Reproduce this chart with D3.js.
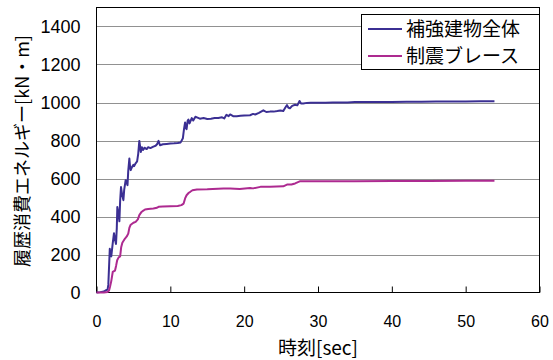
<!DOCTYPE html>
<html>
<head>
<meta charset="utf-8">
<script src="https://cdn.jsdelivr.net/npm/d3@7/dist/d3.min.js"></script>
<style>
  html, body { margin: 0; padding: 0; background: #fff; }
  svg { display: block; }
</style>
</head>
<body>
<svg id="chart" width="553" height="360"></svg>
<script>
// Time [sec] and cumulative hysteretic energy [kN·m] for the whole reinforced building
const buildingTime = [0,0.5,1.0,1.3,1.5,1.6,1.8,1.9,2.0,2.2,2.37,2.5,2.64,2.75,2.82,2.95,3.1,3.2,3.32,3.45,3.64,3.75,3.95,4.1,4.2,4.3,4.45,4.55,4.63,4.8,5.0,5.08,5.3,5.5,5.65,5.8,5.9,6.0,6.15,6.3,6.5,6.8,7.0,7.3,7.7,8.0,8.2,8.4,8.6,9.0,9.5,10.0,10.5,11.0,11.4,11.7,11.85,12.0,12.1,12.2,12.35,12.45,12.6,12.9,13.1,13.4,13.6,14.0,14.5,15.0,15.5,16.0,16.5,17.0,17.3,17.6,17.9,18.1,18.5,19.0,19.5,20.0,20.8,21.2,21.5,22.0,22.6,23.0,23.5,24.0,24.5,24.9,25.3,25.6,25.8,26.0,26.2,26.5,26.9,27.2,27.5,27.7,28.0,28.5,29.0,30.0,31.0,32.0,33.0,34.0,35.0,36.0,37.0,38.0,39.0,40.0,42.0,44.0,46.0,48.0,50.0,52.0,53.9];
const buildingEnergy = [0,2,5,12,15,40,230,200,190,260,312,280,255,340,450,420,375,480,555,520,486,540,591,575,565,640,705,660,644,660,672,665,680,690,730,798,770,740,765,750,762,755,765,760,768,772,780,798,775,780,782,784,785,787,790,812,860,895,865,860,905,910,890,918,905,925,922,915,918,913,915,918,918,922,916,935,928,937,928,928,930,932,933,940,937,945,959,950,952,952,955,958,955,975,986,972,970,982,988,985,1008,995,995,998,999,999,999,1000,1000,1000,1002,1002,1002,1002,1003,1003,1004,1004,1005,1005,1005,1006,1006];

// Time [sec] and cumulative hysteretic energy [kN·m] for the damping braces
const braceTime = [0,1.0,1.5,1.7,1.83,2.0,2.2,2.5,2.65,2.8,3.0,3.2,3.35,3.5,3.86,4.1,4.3,4.45,4.6,5.0,5.3,5.6,5.8,6.1,6.3,6.57,7.0,7.7,8.2,8.4,9.0,10.0,11.0,11.5,11.8,12.0,12.2,12.5,12.7,13.0,13.6,15.0,17.2,18.1,19.4,20.8,21.2,22.2,23.5,25.3,25.8,26.4,26.9,27.6,30.0,35.0,40.0,45.0,50.0,53.9];
const braceEnergy = [0,0,3,10,30,60,108,115,140,170,185,190,240,262,284,295,310,340,355,367,372,385,407,424,430,437,440,442,446,451,452,454,455,460,468,495,512,525,530,538,542,543,547,547,545,550,548,556,557,559,568,568,574,586,586,586,587,587,588,588];

const seriesNames = ["補強建物全体", "制震ブレース"];
const seriesColors = ["#3b2f93", "#ad2a90"];

const xTicks = [0, 10, 20, 30, 40, 50, 60];
const yTicks = [0, 200, 400, 600, 800, 1000, 1200, 1400];

const xTitle = "時刻[sec]";
const yTitle = "履歴消費エネルギー[kN・m]";

const svg = d3.select("#chart");
const plot = { left: 96.5, right: 539.5, top: 7.5, bottom: 292.5 };

const x = d3.scaleLinear().domain([0, 60]).range([plot.left, plot.right]);
const y = d3.scaleLinear().domain([0, 1500]).range([plot.bottom, plot.top]);

const numFont = "'Liberation Sans', Arial, sans-serif";
const jpFont = "'Noto Sans CJK JP', sans-serif";

// Dotted horizontal gridlines
svg.append("g")
  .selectAll("line")
  .data(yTicks.filter(d => d > 0))
  .join("line")
  .attr("x1", plot.left).attr("x2", plot.right)
  .attr("y1", d => Math.round(y(d)) + 0.5).attr("y2", d => Math.round(y(d)) + 0.5)
  .attr("stroke", "#222")
  .attr("stroke-width", 1)
  .attr("stroke-dasharray", "1,1");

// Y axis labels
svg.append("g")
  .call(d3.axisLeft(y).tickValues(yTicks).tickFormat(d3.format("d")).tickSize(0).tickPadding(0))
  .attr("transform", `translate(${plot.left - 16},0)`)
  .call(g => g.select(".domain").remove())
  .call(g => g.selectAll("text")
    .attr("font-family", numFont)
    .attr("font-size", 18)
    .attr("fill", "#000")
    .attr("dy", "0.36em"));

// X axis: inward ticks and labels
svg.append("g")
  .attr("transform", `translate(0,${plot.bottom})`)
  .call(d3.axisBottom(x).tickValues(xTicks).tickFormat(d3.format("d")).tickSizeInner(-6).tickSizeOuter(0).tickPadding(0))
  .call(g => g.select(".domain").remove())
  .call(g => g.selectAll("line").attr("stroke", "#000"))
  .call(g => g.selectAll("text")
    .attr("font-family", numFont)
    .attr("font-size", 16)
    .attr("fill", "#000")
    .attr("y", 34)
    .attr("dy", 0));

// Plot frame
svg.append("rect")
  .attr("x", plot.left).attr("y", plot.top)
  .attr("width", plot.right - plot.left).attr("height", plot.bottom - plot.top)
  .attr("fill", "none")
  .attr("stroke", "#000")
  .attr("stroke-width", 1);

// Energy curves
const line = d3.line().x(d => x(d[0])).y(d => y(d[1]));
const series = [
  d3.zip(buildingTime, buildingEnergy),
  d3.zip(braceTime, braceEnergy)
];
svg.append("g")
  .selectAll("path")
  .data(series)
  .join("path")
  .attr("d", line)
  .attr("fill", "none")
  .attr("stroke", (d, i) => seriesColors[i])
  .attr("stroke-width", 2)
  .attr("stroke-linejoin", "round");

// Legend
const legend = svg.append("g");
legend.append("rect")
  .attr("x", 361.5).attr("y", 14.5)
  .attr("width", 178).attr("height", 55)
  .attr("fill", "#fff")
  .attr("stroke", "#000")
  .attr("stroke-width", 1);
seriesNames.forEach((name, i) => {
  const ly = 29 + i * 27;
  legend.append("line")
    .attr("x1", 368).attr("x2", 402)
    .attr("y1", ly).attr("y2", ly)
    .attr("stroke", seriesColors[i])
    .attr("stroke-width", 2);
  legend.append("text")
    .attr("x", 406).attr("y", ly)
    .attr("dy", "0.36em")
    .attr("font-family", jpFont)
    .attr("font-size", 19)
    .attr("fill", "#000")
    .text(name);
});

// Axis titles
svg.append("text")
  .attr("x", (plot.left + plot.right) / 2)
  .attr("y", 355)
  .attr("text-anchor", "middle")
  .attr("font-family", jpFont)
  .attr("font-size", 19)
  .attr("fill", "#000")
  .text(xTitle);

svg.append("text")
  .attr("transform", "translate(29,151) rotate(-90)")
  .attr("text-anchor", "middle")
  .attr("font-family", jpFont)
  .attr("font-size", 18)
  .attr("fill", "#000")
  .text(yTitle);
</script>
</body>
</html>
